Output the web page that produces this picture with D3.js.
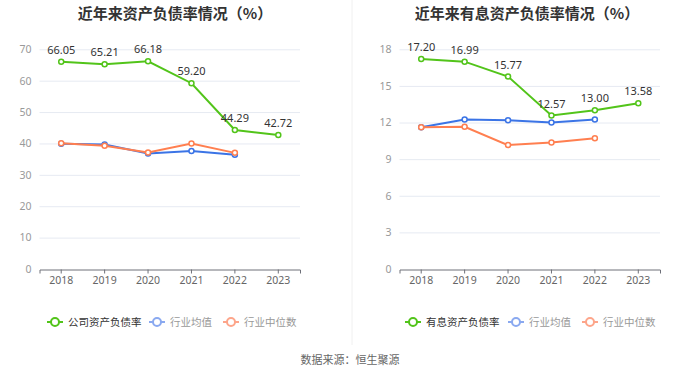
<!DOCTYPE html>
<html><head><meta charset="utf-8">
<script src="https://cdn.jsdelivr.net/npm/d3@7"></script>
<style>body{margin:0;background:#fff;font-family:"Noto Sans CJK SC","Noto Sans",sans-serif;}</style>
</head><body><svg id="c" width="700" height="378"></svg>
<script>
const years = ["2018","2019","2020","2021","2022","2023"];
const leftTitle = "近年来资产负债率情况（%）";
const rightTitle = "近年来有息资产负债率情况（%）";
const companyDebt = [66.05, 65.21, 66.18, 59.20, 44.29, 42.72];
const industryAvgDebt = [39.9, 39.7, 36.8, 37.6, 36.4, null];
const industryMedDebt = [40.1, 39.3, 37.1, 40.0, 37.0, null];
const companyIB = [17.20, 16.99, 15.77, 12.57, 13.00, 13.58];
const industryAvgIB = [11.62, 12.25, 12.19, 12.0, 12.25, null];
const industryMedIB = [11.62, 11.65, 10.15, 10.37, 10.72, null];
const leftTicks = [0,10,20,30,40,50,60,70];
const rightTicks = [0,3,6,9,12,15,18];
const leftLegend = ["公司资产负债率","行业均值","行业中位数"];
const rightLegend = ["有息资产负债率","行业均值","行业中位数"];
const source = "数据来源：恒生聚源";

const GREEN="#52c41a", BLUE="#3b74e6", ORANGE="#ff7f50";
const LG_BLUE="#8aa9f0", LG_ORANGE="#fda58a";
const svg = d3.select("#c");

svg.append("line").attr("x1",352).attr("x2",352).attr("y1",0).attr("y2",345)
  .attr("stroke","#f0f0f0").attr("stroke-width",1);

function panel(cfg){
  const x = d3.scaleBand().domain(years).range([cfg.x0,cfg.x1]);
  const y = d3.scaleLinear().domain([0,cfg.max]).range([269,49.3]);
  const g = svg.append("g");
  g.append("text").attr("x",cfg.tx).attr("y",19).attr("text-anchor","middle")
    .attr("font-size",15).attr("font-weight","bold").attr("fill","#333").text(cfg.title);
  g.selectAll(".gl").data(cfg.ticks.filter(d=>d>0)).join("line")
    .attr("x1",cfg.x0).attr("x2",cfg.x1).attr("y1",d=>y(d)+0.5).attr("y2",d=>y(d)+0.5)
    .attr("stroke","#e6eaf2").attr("stroke-width",1);
  const ya = d3.axisLeft(y).tickValues(cfg.ticks).tickSize(0).tickPadding(8);
  g.append("g").attr("transform",`translate(${cfg.x0},0)`).call(ya)
    .call(a=>a.select(".domain").remove())
    .call(a=>a.selectAll("text").attr("fill","#999").attr("font-size",10.5).attr("font-family","Noto Sans, sans-serif"));
  const xa = d3.axisBottom(x).tickSize(4).tickPadding(3);
  g.append("g").attr("transform","translate(0,269.5)").call(xa)
    .call(a=>a.select(".domain").attr("stroke","#6e7079"))
    .call(a=>a.selectAll(".tick line").attr("stroke","#6e7079"))
    .call(a=>a.selectAll("text").attr("fill","#666").attr("font-size",10.5).attr("font-family","Noto Sans, sans-serif"));
  const cx = d=>x(d)+x.bandwidth()/2;
  const series = [[cfg.comp,GREEN],[cfg.avg,BLUE],[cfg.med,ORANGE]];
  series.forEach(([vals,col])=>{
    const pts = years.map((yr,i)=>({yr,v:vals[i]})).filter(p=>p.v!=null);
    g.append("path").datum(pts).attr("fill","none").attr("stroke",col).attr("stroke-width",2)
      .attr("d",d3.line().x(p=>cx(p.yr)).y(p=>y(p.v)));
    g.selectAll(null).data(pts).join("circle").attr("cx",p=>cx(p.yr)).attr("cy",p=>y(p.v))
      .attr("r",2.5).attr("fill","#fff").attr("stroke",col).attr("stroke-width",1.5);
  });
  g.selectAll(null).data(years.map((yr,i)=>({yr,v:cfg.comp[i]}))).join("text")
    .attr("x",p=>cx(p.yr)).attr("y",p=>y(p.v)-8).attr("text-anchor","middle")
    .attr("font-size",11).attr("fill","#333").attr("font-family","Noto Sans, sans-serif")
    .text(p=>p.v.toFixed(2));
  const cols=[GREEN,LG_BLUE,LG_ORANGE];
  cfg.legend.forEach((t,i)=>{
    const lx = cfg.lx[i], ly=322;
    g.append("line").attr("x1",lx).attr("x2",lx+16).attr("y1",ly).attr("y2",ly).attr("stroke",cols[i]).attr("stroke-width",2);
    g.append("circle").attr("cx",lx+8).attr("cy",ly).attr("r",4).attr("fill","#fff").attr("stroke",cols[i]).attr("stroke-width",2);
    g.append("text").attr("x",lx+21).attr("y",ly+4).attr("font-size",10.5)
      .attr("fill",i===0?"#333":"#999").text(t);
  });
}
panel({x0:39.5,x1:300,max:70,ticks:leftTicks,title:leftTitle,tx:175,comp:companyDebt,avg:industryAvgDebt,med:industryMedDebt,legend:leftLegend,lx:[47,149,223]});
panel({x0:399.5,x1:660,max:18,ticks:rightTicks,title:rightTitle,tx:527,comp:companyIB,avg:industryAvgIB,med:industryMedIB,legend:rightLegend,lx:[405,508,582]});

svg.append("text").attr("x",350).attr("y",364).attr("text-anchor","middle").attr("font-size",11)
  .attr("fill","#666").text(source);
</script></body></html>
